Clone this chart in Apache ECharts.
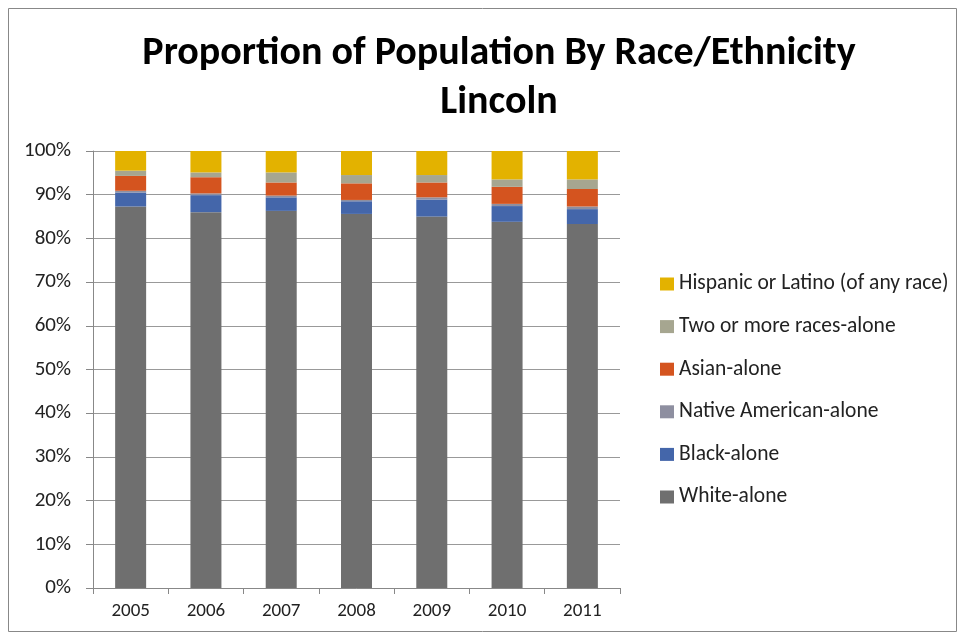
<!DOCTYPE html>
<html><head><meta charset="utf-8">
<script src="https://cdn.jsdelivr.net/npm/echarts@6/dist/echarts.min.js"></script>
<style>html,body{margin:0;padding:0;background:#fff}#c{width:965px;height:641px}</style>
</head><body><div id="c"></div>
<script>
const years = ['2005','2006','2007','2008','2009','2010','2011'];
const white = [87.3, 86.0, 86.3, 85.6, 85.0, 83.8, 83.3];
const black = [3.2, 3.9, 3.1, 2.9, 3.9, 3.6, 3.4];
const nativeAm = [0.4, 0.4, 0.4, 0.3, 0.5, 0.5, 0.6];
const asian = [3.4, 3.7, 3.0, 3.8, 3.4, 3.9, 4.0];
const twoMore = [1.2, 1.1, 2.3, 1.9, 1.7, 1.7, 2.2];
const hispanic = [4.5, 4.9, 4.9, 5.5, 5.5, 6.5, 6.5];
const names = ['White-alone','Black-alone','Native American-alone','Asian-alone','Two or more races-alone','Hispanic or Latino (of any race)'];
const colors = ['#6f6f6f','#4466aa','#8e8fa0','#d4541f','#a6a690','#e3b200'];
const values = [white, black, nativeAm, asian, twoMore, hispanic];
const font = 'Calibri, Carlito, Lato, "Open Sans", sans-serif';

const chart = echarts.init(document.getElementById('c'));
chart.setOption({
  animation: false,
  graphic: [{type:'rect', shape:{x:8.5,y:8.5,width:948,height:623}, style:{fill:'none', stroke:'#888', lineWidth:1}}],
  title: {
    text: 'Proportion of Population By Race/Ethnicity\nLincoln',
    left: 494, top: 24, textAlign: 'center',
    textStyle: {fontFamily: font, fontSize: 40, fontWeight: 'bold', color: '#000', lineHeight: 49}
  },
  legend: {
    orient: 'vertical', left: 655, top: 268, itemGap: 20.6,
    itemWidth: 14, itemHeight: 13, icon: 'rect',
    data: names.slice().reverse(),
    textStyle: {fontFamily: font, fontSize: 21.5, lineHeight: 22, color: '#222'}
  },
  grid: {left: 93, right: 345, top: 151, bottom: 53},
  xAxis: {
    type: 'category', data: years,
    axisLine: {lineStyle: {color: '#888'}},
    axisTick: {show: true, length: 6, lineStyle: {color: '#888'}},
    axisLabel: {fontFamily: font, fontSize: 19, color: '#222', margin: 14}
  },
  yAxis: {
    type: 'value', min: 0, max: 100, interval: 10,
    axisLine: {show: true, lineStyle: {color: '#888'}},
    axisTick: {show: true, length: 7, lineStyle: {color: '#888'}},
    splitLine: {lineStyle: {color: '#999'}},
    axisLabel: {formatter: '{value}%', fontFamily: font, fontSize: 21, color: '#222', margin: 22}
  },
  series: names.map((n, i) => ({
    name: n, type: 'bar', stack: 'total', barWidth: 31,
    itemStyle: {color: colors[i]},
    data: values[i]
  }))
});
</script></body></html>
